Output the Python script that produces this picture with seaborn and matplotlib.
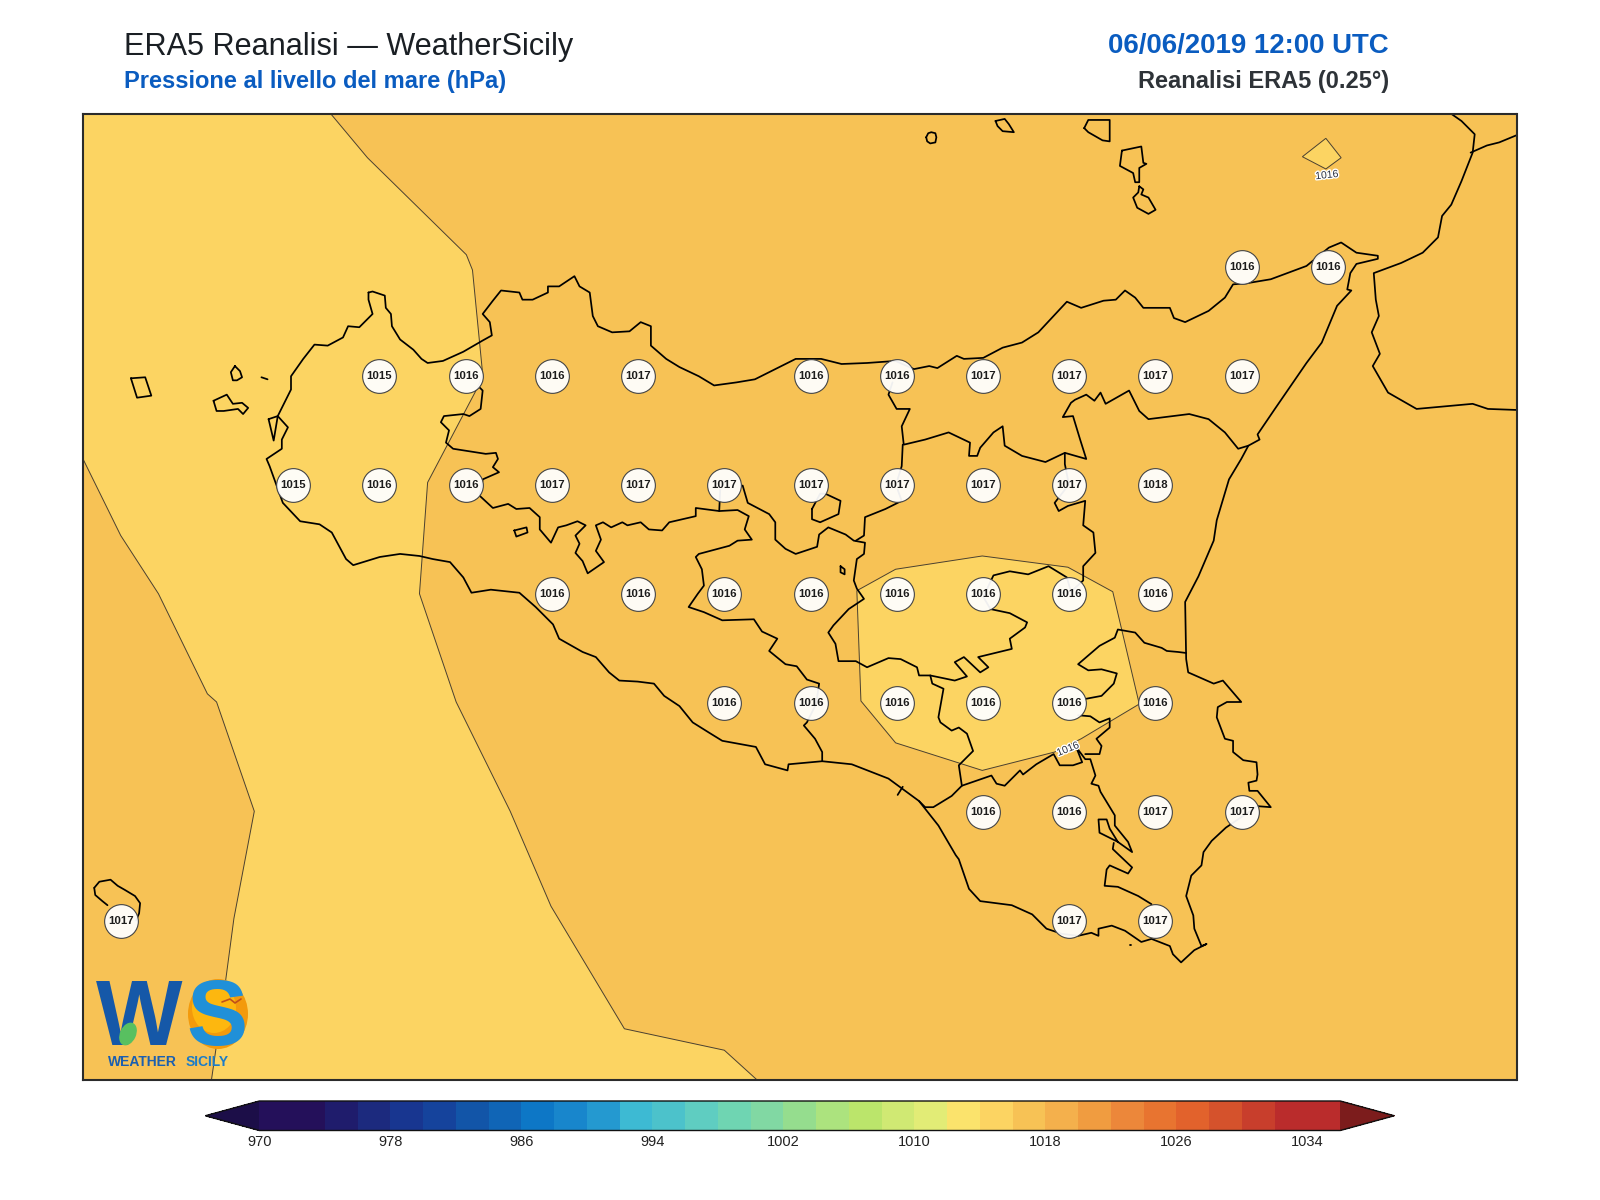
import numpy as np
import matplotlib
matplotlib.use('Agg')
import matplotlib.pyplot as plt
from matplotlib.colors import ListedColormap, BoundaryNorm
from matplotlib.colorbar import ColorbarBase
from matplotlib.patches import Ellipse
import matplotlib.patheffects as pe
import seaborn as sns

# griglia ERA5 0.25 gradi: valori
STATION_LON = [15.25, 15.5,
               12.75, 13.0, 13.25, 13.5, 14.0, 14.25, 14.5, 14.75, 15.0, 15.25,
               12.5, 12.75, 13.0, 13.25, 13.5, 13.75, 14.0, 14.25, 14.5, 14.75, 15.0,
               13.25, 13.5, 13.75, 14.0, 14.25, 14.5, 14.75, 15.0,
               13.75, 14.0, 14.25, 14.5, 14.75, 15.0,
               14.5, 14.75, 15.0, 15.25,
               12.0, 14.75, 15.0]
STATION_LAT = [38.25] * 2 + [38.0] * 10 + [37.75] * 11 + [37.5] * 8 + [37.25] * 6 + [37.0] * 4 + [36.75] * 3
STATION_HPA = [1016, 1016,
               1015, 1016, 1016, 1017, 1016, 1016, 1017, 1017, 1017, 1017,
               1015, 1016, 1016, 1017, 1017, 1017, 1017, 1017, 1017, 1017, 1018,
               1016, 1016, 1016, 1016, 1016, 1016, 1016, 1016,
               1016, 1016, 1016, 1016, 1016, 1016,
               1016, 1016, 1017, 1017,
               1017, 1017, 1017]

LEVELS = list(range(970, 1038, 2))
BAR_TICKS = [970, 978, 986, 994, 1002, 1010, 1018, 1026, 1034]
BAR_COLORS = ['#24105A', '#24105A', '#1F1C6C', '#1C2A7E', '#183690', '#15439C', '#1255A8', '#1065B6',
              '#0D77C6', '#1886CC', '#2499D0', '#3DBAD3', '#4CC2CB', '#5FCDC1', '#6FD5B2', '#81D8A3',
              '#95DD8E', '#ACE37E', '#BBE56B', '#D0E973', '#E2EC76', '#FBE36C', '#FCD462', '#F7C255',
              '#F4B04C', '#F09C40', '#EC873A', '#E87430', '#E2622C', '#D5522C', '#C83E2C', '#BA2C2C',
              '#BA2C2C']

# contorni digitalizzati dalla mappa (unita' immagine, convertite in lon/lat sotto)
BAND_WEST = [(324, 112), (360, 155), (457, 250), (463, 265), (473, 367), (468, 380), (419, 473), (411, 582),
             (447, 688), (500, 795), (540, 888), (612, 1008), (710, 1029), (742, 1058), (207, 1058), (219, 975),
             (229, 900), (249, 795), (212, 688), (203, 680), (155, 582), (118, 525), (81, 450), (81, 112)]
BAND_CENTRE = [(878, 558), (963, 545), (1047, 556), (1091, 580), (1117, 690), (1060, 724), (1034, 737),
               (963, 755), (878, 728), (844, 687), (840, 579)]
BAND_NE = [(1300, 136), (1315, 155), (1300, 166), (1277, 154)]

COAST_SICILY = [(361, 287), (365, 286), (377, 290), (378, 302), (383, 308), (384, 320), (392, 333), (405, 343),
                (413, 352), (419, 356), (434, 354), (454, 345), (473, 334), (482, 329), (480, 316), (473, 308),
                (483, 295), (491, 285), (509, 287), (512, 294), (522, 294), (537, 287), (537, 281), (548, 281),
                (563, 271), (568, 281), (578, 287), (581, 310), (586, 320), (600, 326), (617, 325), (628, 316),
                (638, 320), (638, 339), (653, 352), (666, 360), (685, 369), (700, 378), (722, 375), (740, 372),
                (760, 362), (780, 352), (805, 352), (825, 357), (850, 356), (878, 354), (896, 362), (911, 359),
                (919, 361), (938, 349), (945, 352), (964, 351), (983, 341), (1002, 336), (1018, 326), (1046, 296),
                (1060, 302), (1082, 295), (1094, 294), (1103, 285), (1113, 292), (1121, 302), (1147, 302),
                (1151, 312), (1162, 316), (1185, 305), (1201, 292), (1209, 279), (1222, 278), (1246, 274),
                (1281, 261), (1303, 243), (1315, 238), (1330, 248), (1351, 251), (1351, 254), (1330, 259),
                (1324, 268), (1321, 284), (1325, 285), (1311, 300), (1296, 336), (1281, 356), (1250, 401),
                (1233, 426), (1235, 431), (1224, 437), (1217, 450), (1205, 470), (1193, 510), (1190, 530),
                (1175, 565), (1162, 590), (1163, 646), (1165, 659), (1181, 666), (1190, 670), (1199, 667),
                (1217, 688), (1203, 688), (1194, 693), (1193, 703), (1201, 724), (1209, 726), (1209, 737),
                (1219, 745), (1232, 747), (1233, 759), (1232, 765), (1224, 767), (1225, 775), (1233, 775),
                (1246, 791), (1233, 790), (1202, 811), (1188, 824), (1180, 835), (1178, 848), (1168, 858),
                (1163, 878), (1170, 897), (1171, 910), (1178, 927), (1183, 925), (1171, 931), (1158, 943),
                (1150, 935), (1147, 927), (1129, 920), (1119, 923), (1103, 912), (1090, 907), (1077, 910),
                (1077, 917), (1070, 914), (1057, 917), (1041, 915), (1026, 910), (1012, 896), (992, 887),
                (961, 883), (950, 871), (940, 842), (937, 838), (920, 809), (901, 785), (871, 763), (835, 749),
                (806, 746), (773, 749), (772, 755), (750, 749), (741, 732), (708, 726), (695, 718), (679, 708),
                (666, 692), (651, 682), (641, 670), (625, 668), (607, 667), (597, 659), (584, 644), (571, 639),
                (548, 626), (542, 612), (525, 595), (509, 581), (481, 578), (462, 581), (454, 566), (441, 551),
                (424, 548), (411, 545), (392, 543), (372, 546), (346, 554), (339, 548), (325, 522), (313, 514),
                (294, 511), (277, 493), (264, 457), (261, 450), (276, 440), (276, 431), (282, 419), (272, 408),
                (285, 382), (285, 369), (297, 352), (308, 338), (321, 339), (336, 331), (341, 320), (352, 321),
                (365, 308), (361, 294), (361, 287)]
COAST_STAGNONE = [(263, 411), (272, 408), (268, 432), (263, 411)]
COAST_CALABRIA_A = [(1423, 112), (1433, 119), (1446, 132), (1444, 150), (1433, 178), (1423, 201), (1414, 212),
                    (1410, 233), (1395, 248), (1374, 258), (1347, 268), (1349, 294), (1352, 310), (1345, 326),
                    (1353, 347), (1346, 359), (1361, 385), (1389, 401), (1444, 396), (1459, 401), (1487, 402)]
COAST_CALABRIA_B = [(1442, 150), (1458, 143), (1470, 140), (1487, 133)]

ISLANDS = [
    [(209, 393), (222, 387), (228, 396), (237, 395), (243, 400), (238, 406), (233, 401), (219, 403), (212, 403), (209, 393)],
    [(230, 359), (235, 364), (237, 370), (232, 373), (228, 373), (226, 365), (230, 359)],
    [(128, 371), (142, 370), (148, 388), (134, 390), (128, 371)],
    [(256, 370), (262, 372)],
    [(92, 870), (97, 864), (108, 862), (115, 868), (122, 872), (132, 878), (137, 885), (136, 895), (133, 902)],
    [(92, 870), (93, 877), (100, 883), (105, 887)],
    [(908, 135), (910, 131), (913, 130), (917, 131), (918, 135), (917, 140), (912, 141), (909, 139), (908, 135)],
    [(976, 119), (985, 117), (989, 122), (994, 130), (983, 129), (978, 124), (976, 119)],
    [(1063, 126), (1067, 118), (1088, 118), (1088, 139), (1081, 138), (1067, 130), (1063, 126)],
    [(1100, 148), (1119, 144), (1121, 160), (1124, 161), (1117, 165), (1117, 179), (1113, 179), (1111, 170), (1098, 163), (1100, 148)],
    [(1117, 183), (1121, 186), (1119, 191), (1126, 194), (1133, 206), (1126, 210), (1115, 204), (1111, 194), (1116, 189), (1117, 183)],
]

BOUNDARIES = [
    [(470, 380), (473, 383), (471, 401), (460, 408), (454, 406), (435, 408), (432, 414), (440, 422), (437, 434),
     (444, 440), (476, 445), (486, 444), (488, 450), (483, 458), (489, 463), (473, 470), (470, 486), (483, 498),
     (498, 494), (506, 499), (519, 498), (529, 507), (529, 519), (540, 532), (547, 517), (555, 515), (566, 511),
     (574, 515), (564, 525), (568, 533), (564, 542), (571, 550), (576, 562), (592, 551), (584, 540), (589, 529),
     (584, 515), (591, 512), (599, 517), (610, 512), (615, 515), (628, 512), (636, 519), (649, 520), (656, 512),
     (682, 506), (682, 498), (705, 501), (723, 500), (734, 506), (730, 519), (737, 529), (723, 530), (715, 535),
     (685, 543), (682, 546), (688, 558), (690, 574), (684, 582), (675, 595), (690, 600), (708, 608), (739, 607),
     (747, 619), (762, 626), (754, 638), (770, 651), (781, 653), (791, 666), (803, 670), (800, 690), (791, 708),
     (788, 711), (799, 724), (806, 737), (806, 746)],
    [(705, 501), (706, 480)],
    [(728, 476), (733, 493), (754, 504), (760, 512), (760, 529), (770, 538), (780, 543), (801, 536), (803, 524),
     (812, 517), (829, 524), (837, 530), (848, 532), (847, 543), (840, 548), (837, 569), (840, 577), (847, 587),
     (832, 597), (817, 613), (812, 620), (819, 631), (822, 648), (839, 648), (850, 654), (871, 645), (883, 646),
     (899, 654), (901, 662), (912, 662), (936, 667), (948, 663), (936, 649), (945, 644), (961, 659), (969, 654),
     (959, 644), (992, 636), (990, 626), (1005, 615), (1007, 610), (990, 601), (971, 597), (964, 585), (974, 564),
     (990, 560), (1008, 563), (1028, 555), (1046, 566), (1050, 580), (1062, 569), (1062, 555), (1074, 542),
     (1072, 522), (1062, 515), (1064, 491), (1047, 496), (1038, 501), (1034, 493), (1048, 475), (1044, 455),
     (1044, 444), (1025, 453), (1002, 447), (985, 437), (983, 418), (974, 424), (961, 439), (958, 447), (950, 447),
     (951, 434), (930, 424), (907, 431), (886, 436), (884, 418), (892, 401), (879, 401), (871, 387), (875, 375)],
    [(885, 436), (884, 457), (880, 470)],
    [(880, 480), (884, 491), (868, 499), (848, 507), (847, 525), (839, 530)],
    [(1044, 444), (1065, 450), (1059, 431), (1052, 408), (1042, 409), (1050, 395), (1054, 392), (1065, 387),
     (1073, 393), (1079, 385), (1084, 396), (1107, 383), (1117, 403), (1126, 411), (1166, 406), (1185, 411),
     (1201, 424), (1214, 440), (1224, 437)],
    [(796, 499), (804, 484), (809, 484), (824, 491), (822, 504), (804, 512), (796, 509), (796, 499)],
    [(824, 555), (828, 558), (828, 563), (824, 561), (824, 555)],
    [(504, 520), (516, 517), (517, 522), (506, 526), (504, 520)],
    [(901, 785), (907, 791), (915, 791), (933, 780), (943, 770), (940, 750), (954, 736), (948, 719), (940, 713),
     (933, 716), (922, 708), (920, 703), (925, 675), (914, 670), (912, 662)],
    [(943, 770), (972, 760), (977, 768), (985, 770), (1000, 755), (1003, 759), (1016, 749), (1033, 739), (1039, 750),
     (1052, 750), (1061, 747), (1055, 732), (1064, 744), (1069, 744), (1074, 760), (1070, 768), (1077, 770),
     (1079, 776), (1093, 799), (1093, 809), (1106, 825), (1110, 835), (1096, 825), (1078, 816), (1077, 803),
     (1085, 803), (1088, 812), (1096, 825)],
    [(1092, 826), (1091, 832), (1110, 850), (1106, 856), (1088, 848), (1085, 852), (1083, 868), (1096, 869),
     (1116, 878), (1129, 886)],
    [(1064, 739), (1078, 739), (1080, 731), (1075, 724), (1088, 713), (1088, 704), (1078, 708), (1069, 702), (1057, 701)],
    [(1064, 685), (1080, 682), (1092, 670), (1095, 660), (1080, 656), (1067, 657), (1057, 651), (1078, 633),
     (1093, 625), (1096, 617), (1113, 620), (1122, 630), (1139, 635), (1144, 638), (1155, 639), (1163, 640)],
    [(880, 779), (885, 771)],
]
ISOBAR_LABELS = [(1047, 734, 22), (1301, 172, 6)]


def to_lonlat(points):
    pts = np.array(points, dtype=float)
    lon = 12.0 + (pts[:, 0] - 118) / 338.3
    lat = 36.75 + (902 - pts[:, 1]) / 426.7
    return lon, lat


def draw_line(ax, points, width):
    lon, lat = to_lonlat(points)
    sns.lineplot(x=lon, y=lat, ax=ax, sort=False, estimator=None, color='black', linewidth=width,
                 solid_joinstyle='round')


sns.set_theme(style='white')
plt.rcParams['font.family'] = ['Liberation Sans', 'DejaVu Sans']

cmap = ListedColormap(BAR_COLORS)
cmap.set_under('#1C0E48')
cmap.set_over('#7C1C1C')
norm = BoundaryNorm(LEVELS, cmap.N)

fig = plt.figure(figsize=(16, 12), dpi=100)
ax = fig.add_axes([83 / 1600, 120 / 1200, 1433.5 / 1600, 966 / 1200])
ax.set_facecolor(cmap(norm(1017)))

band_color = cmap(norm(1015))
for band in [BAND_WEST, BAND_CENTRE, BAND_NE]:
    lon, lat = to_lonlat(band)
    ax.fill(lon, lat, facecolor=band_color, edgecolor='#4a4030', linewidth=0.7)

for line in [COAST_SICILY, COAST_STAGNONE, COAST_CALABRIA_A, COAST_CALABRIA_B] + ISLANDS + BOUNDARIES:
    draw_line(ax, line, 1.25)

lon, lat = to_lonlat([(1108, 926), (1109, 926)])
ax.plot(lon, lat, color='black', lw=1.3)

# etichette isobare
for x, y, rot in ISOBAR_LABELS:
    lon, lat = to_lonlat([(x, y)])
    ax.text(lon[0], lat[0], '1016', fontsize=7.5, rotation=rot, color='#2a3040', ha='center', va='center',
            path_effects=[pe.withStroke(linewidth=2, foreground='white')], zorder=4)

# cerchi con i valori di pressione
sns.scatterplot(x=STATION_LON, y=STATION_LAT, ax=ax, s=590, color=(1, 1, 1, 0.94),
                edgecolor='#444444', linewidth=0.8, zorder=5, legend=False)
for lo, la, val in zip(STATION_LON, STATION_LAT, STATION_HPA):
    ax.text(lo, la, str(val), fontsize=8.2, fontweight='bold', color='#1c1c1c',
            ha='center', va='center', zorder=6)

ax.set_xlim(11.8906, 16.0467)
ax.set_ylim(36.384, 38.601)
ax.set_xticks([])
ax.set_yticks([])
ax.set_xlabel('')
ax.set_ylabel('')
for spine in ax.spines.values():
    spine.set_visible(True)
    spine.set_color('#2b2b2b')
    spine.set_linewidth(1.5)

# barra colori
cax = fig.add_axes([205.3 / 1600, (1200 - 1130.5) / 1200, 1189 / 1600, 29.5 / 1200])
cbar = ColorbarBase(cax, cmap=cmap, norm=norm, orientation='horizontal', extend='both',
                    ticks=BAR_TICKS, spacing='uniform', extendfrac=0.05, drawedges=False)
cbar.outline.set_edgecolor('#111111')
cbar.outline.set_linewidth(1.0)
cbar.ax.minorticks_off()
cbar.ax.tick_params(which='both', length=0, labelsize=10.5, pad=3, labelcolor='#222222')

# titoli
fig.text(124 / 1600, 1 - 55 / 1200, 'ERA5 Reanalisi — WeatherSicily', fontsize=22.1, color='#1a1f24')
fig.text(124 / 1600, 1 - 88.3 / 1200, 'Pressione al livello del mare (hPa)', fontsize=17,
         fontweight='bold', color='#0a5cc0')
fig.text(1389 / 1600, 1 - 53.3 / 1200, '06/06/2019 12:00 UTC', fontsize=19.9, fontweight='bold',
         color='#0a5cc0', ha='right')
fig.text(1389 / 1600, 1 - 88.3 / 1200, 'Reanalisi ERA5 (0.25°)', fontsize=17, fontweight='bold',
         color='#2e3338', ha='right')

# logo WS
logo = fig.add_axes([0, 0, 1, 1], facecolor='none')
logo.set_xlim(0, 1600)
logo.set_ylim(1200, 0)
logo.axis('off')
logo.add_patch(Ellipse((218, 1014), 60, 70, facecolor='#F39A0C', edgecolor='none'))
logo.add_patch(Ellipse((214, 1008), 44, 50, facecolor='#FDB70F', edgecolor='none'))
logo.text(96, 1045, 'W', fontsize=66, fontweight='bold', color='#1558A8', va='baseline')
logo.text(186, 1045, 'S', fontsize=66, fontweight='bold', color='#2090D8', va='baseline')
logo.add_patch(Ellipse((128, 1034), 16, 24, angle=25, facecolor='#58C060', edgecolor='none', zorder=5))
logo.plot([222, 230, 235, 241], [1002, 999, 1003, 999], color='#C0501A', lw=1.2, zorder=5)
logo.text(108, 1065.5, 'WEATHER', fontsize=10, fontweight='bold', color='#1B5FB0', va='baseline')
logo.text(186, 1065.5, 'SICILY', fontsize=10, fontweight='bold', color='#1B7CC8', va='baseline')

fig.savefig('out.png', dpi=100)
plt.close(fig)
